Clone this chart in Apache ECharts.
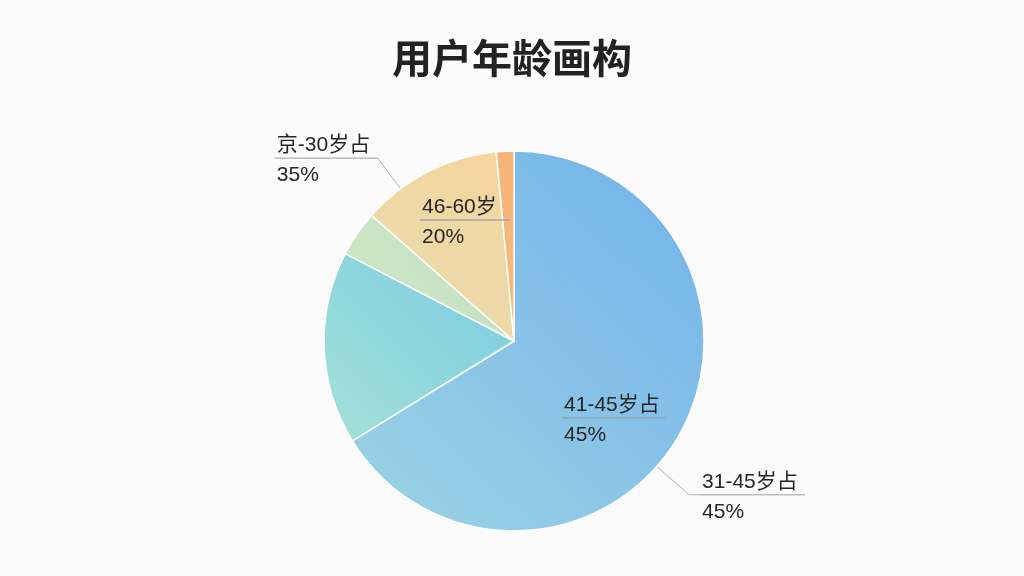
<!DOCTYPE html>
<html>
<head>
<meta charset="utf-8">
<script src="https://cdn.jsdelivr.net/npm/echarts@6/dist/echarts.min.js"></script>
<style>
html,body{margin:0;padding:0;background:#fbfbfb;}
#chart{width:1024px;height:576px;}
</style>
</head>
<body>
<div id="chart"></div>
<script>
// ---- data ----
const chartTitle = '用户年龄画构';
const categories = ['31-45岁', '18-30岁', '18岁以下', '46-60岁', '60岁以上'];
const sliceValues = [66.2, 16.4, 3.9, 12.0, 1.5];
const innerLabelNames = ['41-45岁占', '', '', '46-60岁', ''];
const innerLabelPcts  = ['45%', '', '', '20%', ''];
const outerLabelNames = ['31-45岁占', '', '', '京-30岁占', ''];
const outerLabelPcts  = ['45%', '', '', '35%', ''];

// ---- styling / layout ----
const CX = 50.2, CY = 59.2, R = 190;
const FONT = "'Liberation Sans','Noto Sans CJK SC',sans-serif";
const sliceColors = [
  ['#72b2ea', '#9cd3e4'],
  ['#78cbe2', '#a5e1d8'],
  ['#c0e0c0', '#d0e7c4'],
  ['#f5d49c', '#e6ddb0'],
  ['#f7b478', '#f5bb80']
];
const OUTER = { 0: { angle: 131.3, r: 233, len2: 11, w: 105 }, 3: { angle: 323.3, r: 228, len2: 2, w: 101 } };
const INNER = { 0: { dx: 48, dy: 77, w: 103 }, 3: { dx: -94, dy: -121, w: 90 } };
const T_LH = 26;

const chart = echarts.init(document.getElementById('chart'), null, { renderer: 'canvas' });

function richFor(lineColor) {
  return {
    t: { fontSize: 21, color: '#262626', fontFamily: FONT, lineHeight: T_LH, padding: [0, 0, 0, 2] },
    hr: { width: '100%', height: 0, lineHeight: 0, borderColor: lineColor, borderWidth: 0.8 },
    p: { fontSize: 21, color: '#262626', fontFamily: FONT, lineHeight: 34, padding: [0, 0, 0, 2] }
  };
}

function grad(i) {
  return new echarts.graphic.LinearGradient(1, 0, 0, 1, [
    { offset: 0, color: sliceColors[i][0] },
    { offset: 1, color: sliceColors[i][1] }
  ]);
}

const mainData = categories.map((name, i) => ({
  name: name,
  value: sliceValues[i],
  itemStyle: { color: grad(i) },
  label: { show: innerLabelNames[i] !== '' }
}));

const overlayData = categories.map((name, i) => ({
  name: name,
  value: sliceValues[i],
  label: { show: outerLabelNames[i] !== '' },
  labelLine: { show: outerLabelNames[i] !== '' }
}));

function centerPx() {
  return [chart.getWidth() * CX / 100, chart.getHeight() * CY / 100];
}

const option = {
  backgroundColor: '#fbfbfb',
  animation: false,
  title: {
    text: chartTitle,
    left: 'center',
    top: 33,
    textStyle: { fontSize: 40, fontWeight: 'bold', color: '#222', fontFamily: "'Noto Sans CJK SC',sans-serif" }
  },
  series: [
    {
      type: 'pie',
      center: [CX + '%', CY + '%'],
      radius: [0, R],
      startAngle: 90,
      clockwise: true,
      silent: true,
      itemStyle: { borderColor: '#ffffff', borderWidth: 1.5 },
      label: {
        position: 'inside',
        formatter: p => '{t|' + innerLabelNames[p.dataIndex] + '}\n{hr|}\n{p|' + innerLabelPcts[p.dataIndex] + '}',
        rich: richFor('#8ea2b0')
      },
      labelLine: { show: false },
      labelLayout: function (p) {
        const cfg = INNER[p.dataIndex];
        if (!cfg) return {};
        const c = centerPx();
        return { x: c[0] + cfg.dx, y: c[1] + cfg.dy - T_LH, width: cfg.w, align: 'left', verticalAlign: 'top' };
      },
      data: mainData
    },
    {
      type: 'pie',
      center: [CX + '%', CY + '%'],
      radius: [0, R],
      startAngle: 90,
      clockwise: true,
      silent: true,
      itemStyle: { color: 'rgba(0,0,0,0)', borderWidth: 0 },
      label: {
        position: 'outside',
        formatter: p => '{t|' + outerLabelNames[p.dataIndex] + '}\n{hr|}\n{p|' + outerLabelPcts[p.dataIndex] + '}',
        rich: richFor('#a9b1b7')
      },
      labelLine: { show: true, length: 40, length2: 10, lineStyle: { color: '#a9b1b7', width: 1 } },
      labelLayout: function (p) {
        const cfg = OUTER[p.dataIndex];
        if (!cfg) return {};
        const c = centerPx();
        const a = cfg.angle * Math.PI / 180;
        const sx = Math.sin(a), sy = -Math.cos(a);
        const p0 = [c[0] + R * sx, c[1] + R * sy];
        const p1 = [c[0] + cfg.r * sx, c[1] + cfg.r * sy];
        const dir = sx >= 0 ? 1 : -1;
        const p2 = [p1[0] + dir * cfg.len2, p1[1]];
        const x = dir > 0 ? p2[0] : p2[0] - cfg.w;
        return { x: x, y: p2[1] - T_LH, width: cfg.w, align: 'left', verticalAlign: 'top', labelLinePoints: [p0, p1, p2] };
      },
      data: overlayData
    }
  ]
};

chart.setOption(option);
</script>
</body>
</html>
